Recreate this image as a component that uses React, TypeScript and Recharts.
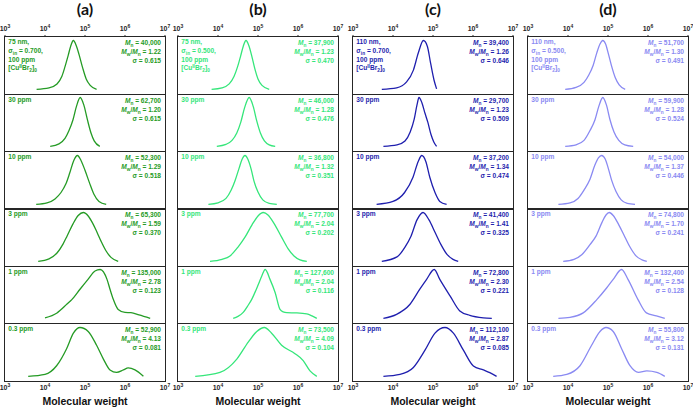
import React from 'react';
import { LineChart, Line, XAxis, YAxis } from 'recharts';

type Pt = [number, number];

// GPC traces as [log10(M), normalised RI signal]; rows are 100, 30, 10, 3, 1, 0.3 ppm
const curvesA: Pt[][] = [
  [[3.79, 0.01], [4.1, 0.04], [4.3, 0.12], [4.42, 0.27], [4.5, 0.47], [4.58, 0.7], [4.64, 0.88], [4.71, 1], [4.78, 0.9], [4.85, 0.72], [4.94, 0.45], [5.03, 0.22], [5.13, 0.09], [5.29, 0.01]],
  [[4.13, 0.01], [4.35, 0.06], [4.5, 0.17], [4.6, 0.33], [4.7, 0.55], [4.79, 0.83], [4.88, 1], [4.97, 0.85], [5.06, 0.55], [5.15, 0.28], [5.23, 0.12], [5.37, 0.01]],
  [[3.78, 0.01], [4.05, 0.04], [4.25, 0.12], [4.4, 0.25], [4.52, 0.42], [4.62, 0.65], [4.72, 0.9], [4.81, 1], [4.9, 0.9], [5.0, 0.7], [5.11, 0.45], [5.22, 0.22], [5.35, 0.07], [5.53, 0.01]],
  [[3.83, 0.01], [4.1, 0.06], [4.3, 0.18], [4.45, 0.36], [4.55, 0.52], [4.7, 0.77], [4.83, 0.94], [4.96, 1], [5.08, 0.93], [5.2, 0.77], [5.3, 0.6], [5.4, 0.42], [5.52, 0.23], [5.65, 0.09], [5.83, 0.01]],
  [[4.0, 0.02], [4.3, 0.12], [4.55, 0.3], [4.67, 0.39], [4.875, 0.6], [5.075, 0.8], [5.25, 0.97], [5.38, 1], [5.55, 0.8], [5.625, 0.6], [5.71, 0.39], [5.83, 0.19], [6.0, 0.13], [6.15, 0.125], [6.35, 0.08], [6.63, 0.01]],
  [[3.58, 0.01], [4.0, 0.05], [4.29, 0.225], [4.54, 0.57], [4.71, 0.885], [4.875, 1], [5.08, 0.92], [5.29, 0.64], [5.46, 0.36], [5.625, 0.14], [5.79, 0.09], [5.96, 0.14], [6.08, 0.18], [6.25, 0.14], [6.46, 0.01]],
];

const curvesB: Pt[][] = [
  [[3.84, 0.01], [4.1, 0.04], [4.28, 0.12], [4.4, 0.27], [4.49, 0.47], [4.57, 0.7], [4.63, 0.88], [4.7, 1], [4.77, 0.9], [4.84, 0.7], [4.92, 0.43], [5.0, 0.22], [5.1, 0.09], [5.28, 0.01]],
  [[3.97, 0.01], [4.2, 0.05], [4.35, 0.13], [4.47, 0.28], [4.57, 0.5], [4.66, 0.78], [4.78, 1], [4.88, 0.82], [4.97, 0.52], [5.06, 0.28], [5.16, 0.12], [5.28, 0.04], [5.43, 0.01]],
  [[3.76, 0.01], [4.0, 0.04], [4.2, 0.13], [4.33, 0.3], [4.43, 0.5], [4.53, 0.75], [4.6, 0.92], [4.675, 1], [4.75, 0.92], [4.83, 0.72], [4.9, 0.48], [5.0, 0.26], [5.12, 0.1], [5.28, 0.03], [5.47, 0.01]],
  [[3.8, 0.01], [4.1, 0.05], [4.3, 0.12], [4.5, 0.3], [4.675, 0.5], [4.85, 0.75], [5.0, 0.93], [5.13, 1], [5.25, 0.95], [5.4, 0.78], [5.59, 0.5], [5.75, 0.27], [5.9, 0.12], [6.05, 0.04], [6.22, 0.01]],
  [[4.38, 0.01], [4.5, 0.05], [4.63, 0.13], [4.75, 0.27], [4.84, 0.39], [5.01, 0.7], [5.1, 0.88], [5.18, 1], [5.3, 0.8], [5.43, 0.53], [5.55, 0.19], [5.63, 0.14], [5.72, 0.125], [5.96, 0.12], [6.22, 0.1], [6.35, 0.06], [6.47, 0.01]],
  [[3.43, 0.01], [4.05, 0.09], [4.47, 0.36], [4.76, 0.71], [4.97, 0.92], [5.16, 1], [5.34, 0.885], [5.59, 0.64], [5.925, 0.47], [6.13, 0.33], [6.3, 0.12], [6.47, 0.01]],
];

const curvesC: Pt[][] = [
  [[3.72, 0.01], [4.09, 0.04], [4.34, 0.16], [4.51, 0.4], [4.63, 0.74], [4.76, 1], [4.86, 0.88], [4.94, 0.54], [5.025, 0.2], [5.09, 0.02]],
  [[3.76, 0.01], [4.1, 0.04], [4.3, 0.12], [4.43, 0.3], [4.53, 0.56], [4.6, 0.85], [4.65, 1], [4.72, 0.9], [4.8, 0.68], [4.87, 0.5], [4.95, 0.25], [5.02, 0.1], [5.09, 0.01]],
  [[3.59, 0.01], [4.0, 0.07], [4.29, 0.25], [4.5, 0.56], [4.63, 0.88], [4.72, 1], [4.82, 0.88], [4.92, 0.56], [5.05, 0.25], [5.17, 0.07], [5.34, 0.01]],
  [[3.72, 0.01], [4.1, 0.1], [4.3, 0.3], [4.45, 0.52], [4.6, 0.85], [4.75, 1], [4.9, 0.85], [5.05, 0.6], [5.2, 0.35], [5.35, 0.15], [5.5, 0.05], [5.63, 0.01]],
  [[3.76, 0.01], [4.09, 0.09], [4.42, 0.29], [4.67, 0.6], [4.84, 0.8], [5.03, 1], [5.17, 0.8], [5.43, 0.46], [5.67, 0.16], [5.92, 0.07], [6.26, 0.02], [6.47, 0.01]],
  [[3.76, 0.01], [4.175, 0.05], [4.51, 0.19], [4.8, 0.54], [5.05, 0.885], [5.3, 1], [5.51, 0.885], [5.76, 0.54], [6.01, 0.22], [6.26, 0.14], [6.42, 0.085], [6.59, 0.01]],
];

const curvesD: Pt[][] = [
  [[3.93, 0.01], [4.2, 0.05], [4.4, 0.15], [4.52, 0.3], [4.63, 0.5], [4.72, 0.75], [4.8, 0.93], [4.87, 1], [4.94, 0.93], [5.01, 0.73], [5.09, 0.48], [5.18, 0.25], [5.28, 0.1], [5.43, 0.01]],
  [[3.93, 0.01], [4.2, 0.04], [4.4, 0.13], [4.55, 0.33], [4.675, 0.55], [4.77, 0.82], [4.87, 1], [4.96, 0.85], [5.05, 0.55], [5.15, 0.3], [5.27, 0.13], [5.42, 0.04], [5.63, 0.01]],
  [[3.76, 0.01], [4.05, 0.04], [4.25, 0.13], [4.4, 0.3], [4.55, 0.52], [4.67, 0.8], [4.76, 0.95], [4.84, 1], [4.93, 0.93], [5.0, 0.76], [5.09, 0.5], [5.2, 0.27], [5.33, 0.1], [5.48, 0.03], [5.675, 0.01]],
  [[3.88, 0.01], [4.15, 0.05], [4.35, 0.15], [4.55, 0.35], [4.7, 0.52], [4.85, 0.8], [4.95, 0.95], [5.03, 1], [5.13, 0.94], [5.27, 0.75], [5.425, 0.5], [5.55, 0.3], [5.7, 0.12], [5.85, 0.04], [5.97, 0.01]],
  [[3.76, 0.01], [4.05, 0.03], [4.38, 0.12], [4.72, 0.39], [4.97, 0.63], [5.13, 0.8], [5.34, 1], [5.5, 0.8], [5.75, 0.39], [5.96, 0.12], [6.21, 0.06], [6.42, 0.01]],
  [[3.63, 0.01], [3.97, 0.05], [4.3, 0.225], [4.59, 0.64], [4.8, 0.92], [4.95, 1], [5.13, 0.92], [5.34, 0.57], [5.55, 0.225], [5.76, 0.09], [5.97, 0.12], [6.22, 0.09], [6.42, 0.01]],
];

const concLabels = ['100 ppm', '30 ppm', '10 ppm', '3 ppm', '1 ppm', '0.3 ppm'];

const mnA = ['40,000', '62,700', '52,300', '65,300', '135,000', '52,900'];
const pdiA = ['1.22', '1.20', '1.29', '1.59', '2.78', '4.13'];
const sigmaA = ['0.615', '0.615', '0.518', '0.370', '0.123', '0.081'];

const mnB = ['37,900', '46,000', '36,800', '77,700', '127,600', '73,500'];
const pdiB = ['1.23', '1.28', '1.32', '2.04', '2.04', '4.09'];
const sigmaB = ['0.470', '0.476', '0.351', '0.202', '0.116', '0.104'];

const mnC = ['39,400', '29,700', '37,200', '41,400', '72,800', '112,100'];
const pdiC = ['1.26', '1.23', '1.34', '1.41', '2.30', '2.87'];
const sigmaC = ['0.646', '0.509', '0.474', '0.325', '0.221', '0.085'];

const mnD = ['51,700', '59,900', '54,000', '74,800', '132,400', '55,800'];
const pdiD = ['1.30', '1.28', '1.37', '1.70', '2.54', '3.12'];
const sigmaD = ['0.491', '0.524', '0.446', '0.241', '0.128', '0.131'];

const decades = [3, 4, 5, 6, 7];

// minor log ticks 2..9 within each decade
const minorTicks: number[] = [];
for (let d = 3; d < 7; d++) {
  for (let k = 2; k <= 9; k++) minorTicks.push(d + Math.log10(k));
}

const columns = [
  { tag: '(a)', left: 5, color: '#259b25', size: '75 nm,', sigmaIn: '0.700', curves: curvesA, mn: mnA, pdi: pdiA, sigma: sigmaA },
  { tag: '(b)', left: 178, color: '#35e67a', size: '75 nm,', sigmaIn: '0.500', curves: curvesB, mn: mnB, pdi: pdiB, sigma: sigmaB },
  { tag: '(c)', left: 353, color: '#1f1fae', size: '110 nm,', sigmaIn: '0.700', curves: curvesC, mn: mnC, pdi: pdiC, sigma: sigmaC },
  { tag: '(d)', left: 528, color: '#8a8af2', size: '110 nm,', sigmaIn: '0.500', curves: curvesD, mn: mnD, pdi: pdiD, sigma: sigmaD },
];

type Column = (typeof columns)[number];

const W = 160;
const PAD = 8; // room either side for the 10^3 / 10^7 labels
const TOP = 37;
const ROW_H = 344 / 6;
const AXIS_H = 16;
const INK = '#262626';
const FONT = '"Liberation Sans", Arial, sans-serif';

const PowerTick = (props: any) => {
  const { x, y, payload, side } = props;
  return (
    <text x={x} y={side === 'top' ? y - 2 : y + 9} textAnchor="middle" fontFamily={FONT} fontWeight="bold" fontSize={7} fill={INK}>
      10<tspan dy={-3.2} fontSize={5}>{payload.value}</tspan>
    </text>
  );
};

const sub: React.CSSProperties = { fontSize: '0.72em', verticalAlign: '-1.5px', lineHeight: 0 };
const sup: React.CSSProperties = { fontSize: '0.72em', verticalAlign: '2.5px', lineHeight: 0 };

const Panel = ({ col, row }: { col: Column; row: number }) => {
  const first = row === 0;
  const last = row === 5;
  const extraTop = first ? AXIS_H : 0;
  const extraBottom = last ? AXIS_H : 0;
  const data = col.curves[row].map(([x, w]) => ({ x, w }));
  const rowTop = TOP + row * ROW_H;

  return (
    <>
      <div style={{ position: 'absolute', left: col.left - PAD, top: rowTop - extraTop }}>
        <LineChart width={W + 2 * PAD} height={ROW_H + extraTop + extraBottom} data={data}
          margin={{ top: 0, right: PAD, bottom: 0, left: PAD }}>
          <XAxis xAxisId="minor" type="number" dataKey="x" domain={[3, 7]} ticks={minorTicks} allowDataOverflow interval={0}
            mirror tick={false} tickSize={1.8} axisLine={false} height={0} stroke={INK} />
          <XAxis xAxisId="major" type="number" dataKey="x" domain={[3, 7]} ticks={decades} allowDataOverflow interval={0}
            mirror tick={false} tickSize={3.6} axisLine={false} height={0} stroke={INK} />
          {first && (
            <XAxis xAxisId="top" orientation="top" type="number" dataKey="x" domain={[3, 7]} ticks={decades} interval={0}
              allowDataOverflow height={AXIS_H} tickSize={2} tickMargin={2} axisLine={false} stroke={INK}
              tick={(p: any) => <PowerTick {...p} side="top" />} />
          )}
          {last && (
            <XAxis xAxisId="bottom" type="number" dataKey="x" domain={[3, 7]} ticks={decades} interval={0}
              allowDataOverflow height={AXIS_H} tickSize={0} tickMargin={0} tickLine={false} axisLine={false}
              tick={(p: any) => <PowerTick {...p} side="bottom" />} />
          )}
          <YAxis hide domain={[-0.091, 1.071]} />
          <Line xAxisId="minor" dataKey="w" type="monotone" stroke={col.color} strokeWidth={1.3} dot={false} isAnimationActive={false} />
        </LineChart>
      </div>

      {/* left-hand condition label */}
      <div style={{ position: 'absolute', left: col.left + 3.3, top: rowTop + 1.3, fontFamily: FONT, fontWeight: 'bold',
        fontSize: 6.6, lineHeight: '8.7px', color: col.color, whiteSpace: 'nowrap' }}>
        {first ? (
          <>
            <div>{col.size}</div>
            <div>σ<span style={sub}>in</span> = {col.sigmaIn},</div>
            <div>{concLabels[0]}</div>
            <div>[Cu<span style={sup}>II</span>Br<span style={sub}>2</span>]<span style={sub}>0</span></div>
          </>
        ) : (
          <div>{concLabels[row]}</div>
        )}
      </div>

      {/* right-hand molecular weight summary */}
      <div style={{ position: 'absolute', left: col.left, width: W - 4, top: rowTop + 1.2, textAlign: 'right', fontFamily: FONT,
        fontWeight: 'bold', fontSize: 6.6, lineHeight: '9px', color: col.color, whiteSpace: 'nowrap' }}>
        <div><i>M</i><span style={sub}>n</span> = {col.mn[row]}</div>
        <div><i>M</i><span style={sub}>w</span>/<i>M</i><span style={sub}>n</span> = {col.pdi[row]}</div>
        <div>σ = {col.sigma[row]}</div>
      </div>
    </>
  );
};

const Frame = ({ col }: { col: Column }) => (
  <>
    <div style={{ position: 'absolute', left: col.left - 0.8, top: TOP - 0.8, width: W + 1.6, height: 6 * ROW_H + 1.6,
      border: `1.6px solid ${INK}`, boxSizing: 'border-box' }} />
    {[1, 2, 3, 4, 5].map((r) => (
      <div key={r} style={{ position: 'absolute', left: col.left, top: TOP + r * ROW_H - 0.8, width: W, height: 1.6, background: INK }} />
    ))}
  </>
);

export default function App() {
  return (
    <div style={{ position: 'fixed', left: 0, top: 0, width: 693, height: 408, background: '#fff', overflow: 'hidden' }}>
      {columns.map((col) => (
        <React.Fragment key={col.tag}>
          <div style={{ position: 'absolute', left: col.left, width: W, top: 0, textAlign: 'center', fontFamily: 'Lato, "Open Sans", sans-serif',
            fontWeight: 'bold', fontSize: 16, lineHeight: '18px', color: '#111' }}>
            {col.tag}
          </div>
          {[0, 1, 2, 3, 4, 5].map((r) => (
            <Panel key={r} col={col} row={r} />
          ))}
          <Frame col={col} />
          <div style={{ position: 'absolute', left: col.left, width: W, top: 395, textAlign: 'center', fontFamily: FONT,
            fontWeight: 'bold', fontSize: 10.5, lineHeight: '12px', color: '#111' }}>
            Molecular weight
          </div>
        </React.Fragment>
      ))}
    </div>
  );
}
